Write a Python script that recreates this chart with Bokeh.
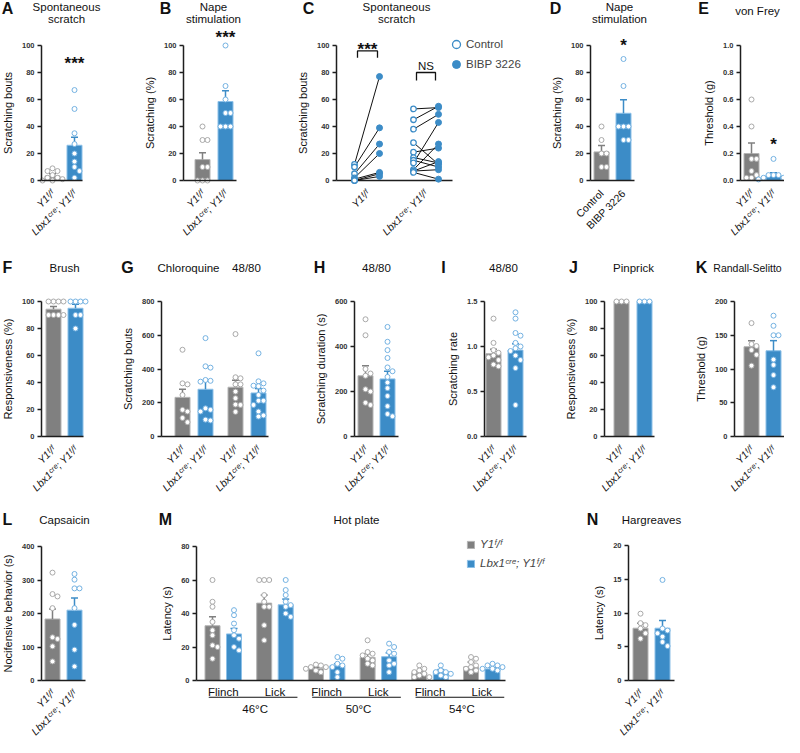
import numpy as np
from math import pi
from bokeh.plotting import figure
from bokeh.models import (Range1d, FixedTicker, Label, Legend, LegendItem,
                          NumeralTickFormatter, ColumnDataSource)
from bokeh.layouts import row, column
from bokeh.embed import file_html
from bokeh.resources import INLINE
from bokeh.core.properties import value

FONT = "Liberation Sans"
GRAY, GRAY_LINE, GRAY_PT = "#808080", "#b4b4b4", "#a9a9a9"
BLUE, BLUE_LINE, BLUE_PT = "#3c8cc7", "#8cc0e8", "#74b2e2"
AXC = "#1e1e1e"

Y1 = "Y1ᶠ/ᶠ"
LBX = "Lbx1ᶜʳᵉ; Y1ᶠ/ᶠ"
GENO = [Y1, LBX]

# ---------------- data ----------------
A_mean = [3.4, 26.1]
A_sem = [1.6, 5.9]
A_y1 = [9, 7, 7, 4, 2, 2, 1, 0, 0]
A_lbx = [67, 53, 35, 27, 20, 14, 10, 7, 2]

B_mean = [15.5, 58.5]
B_sem = [5.0, 8.0]
B_y1 = [40, 30, 30, 10, 10, 0, 0, 0]
B_lbx = [100, 70, 60, 50, 50, 40, 40, 40]

C_y1_ctrl = [12, 10, 5, 2, 1, 0, 0]
C_y1_bibp = [77, 39, 27, 20, 6, 5, 3]
C_lbx_ctrl = [53, 45, 38, 28, 21, 17, 15, 13, 8, 7, 7, 6]
C_lbx_bibp = [54, 55, 49, 12, 24, 13, 10, 43, 27, 14, 8, 1]

D_cats = ["Control", "BIBP 3226"]
D_mean = [21.2, 49.8]
D_sem = [4.7, 10.1]
D_ctrl = [40, 30, 20, 20, 10, 10]
D_bibp = [90, 70, 40, 40, 40, 30, 30]

E_mean = [0.2, 0.04]
E_sem = [0.077, 0.018]
E_y1 = [0.6, 0.4, 0.16, 0.16, 0.07, 0.04, 0.02, 0.02]
E_lbx = [0.16, 0.04, 0.04, 0.04, 0.02, 0.02, 0.01, 0.008]

F_mean = [94.3, 95.0]
F_sem = [2.0, 3.0]
F_y1 = [100, 100, 100, 100, 90, 90, 90, 90]
F_lbx = [100, 100, 100, 100, 90, 90, 80]

G_cats = [Y1, LBX, Y1, LBX]
G_mean = [232, 280, 292, 258]
G_sem = [48, 47, 41, 26]
G_cq_y1 = [514, 315, 309, 246, 158, 148, 110, 85]
G_cq_lbx = [583, 416, 408, 335, 330, 325, 167, 158, 148, 100, 95]
G_48_y1 = [607, 351, 345, 309, 309, 266, 227, 189, 187, 146]
G_48_lbx = [493, 327, 315, 301, 298, 272, 246, 212, 212, 187, 148, 125, 118]

H_mean = [270, 256]
H_sem = [45, 34]
H_y1 = [521, 450, 300, 280, 270, 210, 200, 150, 140]
H_lbx = [487, 421, 384, 349, 307, 290, 265, 240, 215, 180, 135, 100, 90]

I_mean = [0.92, 0.96]
I_sem = [0.05, 0.07]
I_y1 = [1.31, 1.04, 0.96, 0.93, 0.9, 0.88, 0.85, 0.8, 0.78]
I_lbx = [1.38, 1.31, 1.15, 1.12, 1.04, 1.0, 0.98, 0.95, 0.9, 0.85, 0.76, 0.35]

J_mean = [100, 100]
J_sem = [0, 0]
J_y1 = [100, 100, 100]
J_lbx = [100, 100, 100]

K_mean = [133, 127]
K_sem = [9, 15]
K_y1 = [168, 137, 134, 128, 121, 105]
K_lbx = [179, 164, 150, 150, 114, 106, 91, 73]

L_mean = [183.6, 210]
L_sem = [30, 36]
L_y1 = [322, 258, 251, 216, 129, 124, 102, 57]
L_lbx = [318, 301, 275, 275, 216, 166, 92, 42]

M_temps = ["46°C", "50°C", "54°C"]
M_behav = ["Flinch", "Lick"]
M_mean = [32.7, 27.8, 46.2, 45.2, 7.1, 8.8, 13.8, 14.2, 4.6, 5.5, 8.1, 6.9]
M_sem = [5.3, 3.2, 4.8, 3.4, 0.8, 1.2, 2.2, 2.3, 0.9, 1.0, 2.9, 0.8]
M_46f_y1 = [60, 47, 44, 35, 30, 27, 21, 20, 13]
M_46f_lbx = [42, 39, 34, 30, 27, 25, 20, 18]
M_46l_y1 = [60, 60, 60, 51, 47, 44, 44, 33, 24]
M_46l_lbx = [60, 54, 51, 47, 45, 44, 40, 38]
M_50f_y1 = [9.5, 9, 8, 8, 7, 6, 5]
M_50f_lbx = [14, 13, 10, 9, 8, 5, 2]
M_50l_y1 = [24, 17, 16, 15, 13, 12, 10, 9]
M_50l_lbx = [22, 20, 17, 16, 12, 10, 9, 5]
M_54f_y1 = [9, 7, 6, 5, 4, 3, 2, 2]
M_54f_lbx = [9, 6, 5, 5, 4, 3, 2]
M_54l_y1 = [14, 13, 11, 9, 8, 7, 6, 5]
M_54l_lbx = [10, 9, 9, 8, 7, 7, 6]

N_mean = [7.75, 7.75]
N_sem = [0.75, 1.15]
N_y1 = [9.9, 8.5, 8.2, 7.7, 7.0, 6.2]
N_lbx = [14.9, 7.7, 7.4, 7.0, 6.5, 5.7, 5.1]

# ---------------- helpers ----------------
R1, R2, R3 = 252, 248, 237


def swarm(vals, s, d=5.0):
    ys = [v * s for v in vals]
    order = sorted(range(len(vals)), key=lambda i: -ys[i])
    placed, offs = [], [0.0] * len(vals)
    for i in order:
        cand = 0.0
        for k in range(0, 15):
            cand = 0.0 if k == 0 else ((k + 1) // 2) * d * (1 if k % 2 else -1)
            if all((cand - px) ** 2 + (ys[i] - py) ** 2 >= (d * 0.95) ** 2 for px, py in placed):
                break
        offs[i] = cand
        placed.append((cand, ys[i]))
    return offs


def make_fig(fx, fw, rh, ax, ytop, y0, ymax, xaxis=True):
    # the frame covers the whole figure; axes are pinned at data 0
    s = (y0 - ytop) / ymax
    p = figure(width=fw, height=rh, x_range=Range1d(fx - ax, fx + fw - ax),
               y_range=Range1d((y0 - rh) / s, y0 / s), min_border=0,
               toolbar_location=None, output_backend="svg", title=None,
               x_axis_location="below" if xaxis else None)
    p.outline_line_color = None
    p.xgrid.visible = False
    p.ygrid.visible = False
    p.background_fill_color = "white"
    p.border_fill_color = "white"
    p.yaxis[0].fixed_location = 0
    if xaxis:
        p.xaxis[0].fixed_location = 0
    return p, dict(fx=fx, rh=rh, s=s)


def style_y(p, ymax, ystep, label, fmt=None):
    a = p.yaxis[0]
    a.bounds = (0, ymax)
    a.ticker = FixedTicker(ticks=[float(t) for t in np.arange(0, ymax + ystep / 2, ystep)])
    if fmt:
        a.formatter = NumeralTickFormatter(format=fmt)
    a.axis_label = label
    a.axis_label_text_font = FONT
    a.axis_label_text_font_size = "11px"
    a.axis_label_text_font_style = "normal"
    a.axis_label_text_color = "#111111"
    a.axis_label_standoff = 5
    a.major_label_text_font = FONT
    a.major_label_text_font_size = "7.5px"
    a.major_label_text_font_style = "bold"
    a.major_label_text_color = "#333333"
    a.major_label_standoff = 3
    a.axis_line_width = 1.5
    a.axis_line_color = AXC
    a.major_tick_line_width = 1.5
    a.major_tick_line_color = AXC
    a.major_tick_out = 4
    a.major_tick_in = 0
    a.minor_tick_line_color = None


def style_x(p, centers, labels, italic=True):
    a = p.xaxis[0]
    a.ticker = FixedTicker(ticks=list(centers))
    a.major_label_overrides = {c: l for c, l in zip(centers, labels)}
    a.major_label_orientation = pi / 4
    a.axis_line_color = None
    a.major_tick_line_color = None
    a.minor_tick_line_color = None
    a.major_label_standoff = 5
    a.major_label_text_font = FONT
    a.major_label_text_font_size = "10.5px"
    a.major_label_text_font_style = "italic" if italic else "normal"
    a.major_label_text_color = "#111111"


def lab(p, g, x, y, text, size="11.5px", bold=False, align="center"):
    p.add_layout(Label(x=x - g["fx"], y=g["rh"] - y, x_units="screen", y_units="screen",
                       text=text, text_font=FONT, text_font_size=size,
                       text_font_style="bold" if bold else "normal",
                       text_align=align, text_baseline="middle", text_color="#111111"))


def star(p, x, y, text="***"):
    p.add_layout(Label(x=x, y=y, text=text, text_font=FONT, text_font_size="17px",
                       text_font_style="bold", text_align="center", text_baseline="middle",
                       text_color="#111111"))


def draw_bars(p, g, centers, means, sems, pts_list, alen, bw=15):
    cols = [GRAY if i % 2 == 0 else BLUE for i in range(len(means))]
    lcols = [GRAY_LINE if i % 2 == 0 else BLUE_LINE for i in range(len(means))]
    pcols = [GRAY_PT if i % 2 == 0 else BLUE_PT for i in range(len(means))]
    src = ColumnDataSource(dict(x=list(centers), top=list(means), fill=cols, line=lcols))
    r = p.vbar(x="x", top="top", bottom=0, width=bw, fill_color="fill", line_color="line",
               line_width=1, source=src)
    tops = [m + e for m, e in zip(means, sems)]
    p.segment(x0=list(centers), y0=list(means), x1=list(centers), y1=tops,
              line_color=cols, line_width=1.5)
    p.segment(x0=[c - 3.5 for c in centers], y0=tops, x1=[c + 3.5 for c in centers], y1=tops,
              line_color=cols, line_width=1.5)
    xs, ys, cs = [], [], []
    for c, pts, pc in zip(centers, pts_list, pcols):
        offs = swarm(pts, g["s"])
        xs += [c + o for o in offs]
        ys += list(pts)
        cs += [pc] * len(pts)
    p.scatter(x=xs, y=ys, size=5, marker="circle", fill_color="white", line_color=cs, line_width=1)
    p.segment(x0=[0], y0=[0], x1=[alen], y1=[0], line_color=AXC, line_width=1.5)
    return r


def std_panel(fx, fw, rh, ax, alen, ytop, y0, ymax, ystep, ylabel, centers, means, sems,
              pts, xlabels, fmt=None, italic=True):
    p, g = make_fig(fx, fw, rh, ax, ytop, y0, ymax)
    style_y(p, ymax, ystep, ylabel, fmt)
    style_x(p, centers, xlabels, italic)
    draw_bars(p, g, centers, means, sems, pts, alen)
    return p, g


# ---------------- row 1 ----------------
pA, gA = std_panel(0, 142, R1, 41, 41, 45, 180, 100, 20, "Scratching bouts",
                   [11, 33], A_mean, A_sem, [A_y1, A_lbx], GENO)
lab(pA, gA, 7, 8, "A", "16px", True)
lab(pA, gA, 66, 6, "Spontaneous")
lab(pA, gA, 66, 18, "scratch")
star(pA, 33, 87)

pB, gB = std_panel(142, 152, R1, 183, 53, 45, 180, 100, 20, "Scratching (%)",
                   [19, 42], B_mean, B_sem, [B_y1, B_lbx], GENO)
lab(pB, gB, 165, 8, "B", "16px", True)
lab(pB, gB, 213, 6, "Nape")
lab(pB, gB, 213, 18, "stimulation")
star(pB, 42, 106)

# C
pC, gC = make_fig(294, 248, R1, 336, 45, 180, 100)
style_y(pC, 100, 20, "Scratching bouts")
c_pos = [18, 43, 77, 102]
style_x(pC, [31, 89], GENO)
pC.segment(x0=[0], y0=[0], x1=[116], y1=[0], line_color=AXC, line_width=1.5)
lx0 = [c_pos[0]] * len(C_y1_ctrl) + [c_pos[2]] * len(C_lbx_ctrl)
lx1 = [c_pos[1]] * len(C_y1_bibp) + [c_pos[3]] * len(C_lbx_bibp)
ly0 = C_y1_ctrl + C_lbx_ctrl
ly1 = C_y1_bibp + C_lbx_bibp
pC.segment(x0=lx0, y0=ly0, x1=lx1, y1=ly1, line_color="#111111", line_width=1)
r_ctrl = pC.scatter(x=lx0, y=ly0, size=5.5, marker="circle", fill_color="white",
                    line_color=BLUE, line_width=1.3)
r_bibp = pC.scatter(x=lx1, y=ly1, size=6, marker="circle", fill_color=BLUE,
                    line_color=BLUE, line_width=1)
pC.multi_line(xs=[[21, 21, 41, 41], [80, 80, 99, 99]], ys=[[91, 96, 96, 91], [74, 80, 80, 74]],
              line_color="#111111", line_width=1.3)
star(pC, 31, 97)
pC.add_layout(Label(x=89.5, y=85, text="NS", text_font=FONT, text_font_size="11.5px",
                    text_align="center", text_baseline="middle", text_color="#111111"))
legC = Legend(items=[LegendItem(label="Control", renderers=[r_ctrl]),
                     LegendItem(label="BIBP 3226", renderers=[r_bibp])],
              location=(152, R1 - 74), glyph_width=20, glyph_height=20, label_standoff=0,
              spacing=0, padding=0, margin=0, label_height=20, border_line_color=None,
              background_fill_alpha=0, label_text_font=FONT, label_text_font_size="11.5px")
pC.add_layout(legC)
lab(pC, gC, 308, 8, "C", "16px", True)
lab(pC, gC, 396, 6, "Spontaneous")
lab(pC, gC, 396, 18, "scratch")

pD, gD = std_panel(542, 152, R1, 590, 44, 45, 180, 100, 20, "Scratching (%)",
                   [11, 33], D_mean, D_sem, [D_ctrl, D_bibp], D_cats, italic=False)
lab(pD, gD, 555, 8, "D", "16px", True)
lab(pD, gD, 619, 6, "Nape")
lab(pD, gD, 619, 18, "stimulation")
star(pD, 33, 100, "*")

pE, gE = std_panel(694, 90, R1, 740, 44, 45, 180, 1.0, 0.2, "Threshold (g)",
                   [11, 33], E_mean, E_sem, [E_y1, E_lbx], GENO, fmt="0.0")
lab(pE, gE, 703, 8, "E", "16px", True)
lab(pE, gE, 757, 10, "von Frey")
star(pE, 33, 0.27, "*")

# ---------------- row 2 ----------------
pF, gF = std_panel(0, 114, R2, 41, 42, 49, 184, 100, 20, "Responsiveness (%)",
                   [12, 34], F_mean, F_sem, [F_y1, F_lbx], GENO)
lab(pF, gF, 7, 15, "F", "16px", True)
lab(pF, gF, 64, 15, "Brush")

pG, gG = std_panel(114, 198, R2, 161, 107, 49, 184, 800, 200, "Scratching bouts",
                   [21, 44, 74, 97], G_mean, G_sem, [G_cq_y1, G_cq_lbx, G_48_y1, G_48_lbx], G_cats)
lab(pG, gG, 127, 15, "G", "16px", True)
lab(pG, gG, 188, 15, "Chloroquine")
lab(pG, gG, 246, 15, "48/80")

pH, gH = std_panel(312, 120, R2, 354, 44, 49, 184, 600, 200, "Scratching duration (s)",
                   [11, 33], H_mean, H_sem, [H_y1, H_lbx], GENO)
lab(pH, gH, 319, 15, "H", "16px", True)
lab(pH, gH, 376, 15, "48/80")

pI, gI = std_panel(432, 130, R2, 484, 42, 49, 184, 1.5, 0.5, "Scratching rate",
                   [9, 31], I_mean, I_sem, [I_y1, I_lbx], GENO, fmt="0.0")
lab(pI, gI, 443, 15, "I", "16px", True)
lab(pI, gI, 503, 15, "48/80")

pJ, gJ = std_panel(562, 130, R2, 604, 50, 49, 184, 100, 20, "Responsiveness (%)",
                   [17, 40], J_mean, J_sem, [J_y1, J_lbx], GENO)
lab(pJ, gJ, 573, 15, "J", "16px", True)
lab(pJ, gJ, 633, 15, "Pinprick")

pK, gK = std_panel(692, 92, R2, 734, 50, 49, 184, 200, 50, "Threshold (g)",
                   [17, 39], K_mean, K_sem, [K_y1, K_lbx], GENO)
lab(pK, gK, 701, 15, "K", "16px", True)
lab(pK, gK, 747, 15, "Randall-Selitto", size="10.5px")

# ---------------- row 3 ----------------
pL, gL = std_panel(0, 152, R3, 41, 44, 46, 180, 400, 100, "Nocifensive behavior (s)",
                   [11, 33], L_mean, L_sem, [L_y1, L_lbx], GENO)
lab(pL, gL, 7, 19, "L", "16px", True)
lab(pL, gL, 64, 19, "Capsaicin")

pM, gM = make_fig(152, 430, R3, 196, 46, 180, 80, xaxis=False)
style_y(pM, 80, 20, "Latency (s)")
m_centers = [16 + 51.7 * k + 21.5 * j for k in range(6) for j in range(2)]
m_pts = [M_46f_y1, M_46f_lbx, M_46l_y1, M_46l_lbx, M_50f_y1, M_50f_lbx,
         M_50l_y1, M_50l_lbx, M_54f_y1, M_54f_lbx, M_54l_y1, M_54l_lbx]
rM = draw_bars(pM, gM, m_centers, M_mean, M_sem, m_pts, 309)
pair_c = [16 + 51.7 * k + 10.75 for k in range(6)]
pM.text(x=pair_c, y=[-7.0] * 6, text=M_behav * 3, text_font=value(FONT), text_font_size="11.5px",
        text_align="center", text_baseline="middle", text_color="#111111")
gl0 = [pair_c[2 * t] - 14.5 for t in range(3)]
gl1 = [pair_c[2 * t + 1] + 22.5 for t in range(3)]
pM.segment(x0=gl0, y0=[-10.0] * 3, x1=gl1, y1=[-10.0] * 3, line_color="#111111", line_width=1)
pM.text(x=[(a + b) / 2 + 2 for a, b in zip(gl0, gl1)], y=[-16.9] * 3, text=M_temps,
        text_font=value(FONT), text_font_size="11.5px", text_align="center",
        text_baseline="middle", text_color="#111111")
legM = Legend(items=[LegendItem(label=Y1, renderers=[rM], index=0),
                     LegendItem(label=LBX, renderers=[rM], index=1)],
              location=(314, R3 - 69), glyph_width=9, glyph_height=9, label_standoff=5,
              spacing=7, padding=0, margin=0, label_height=11, border_line_color=None,
              background_fill_alpha=0, label_text_font=FONT, label_text_font_size="11.5px",
              label_text_font_style="italic")
pM.add_layout(legM)
lab(pM, gM, 165, 19, "M", "16px", True)
lab(pM, gM, 356, 19, "Hot plate")

pN, gN = std_panel(582, 202, R3, 628, 46, 45, 180, 20, 5, "Latency (s)",
                   [12, 34], N_mean, N_sem, [N_y1, N_lbx], GENO)
lab(pN, gN, 592, 19, "N", "16px", True)
lab(pN, gN, 651, 19, "Hargreaves")

layout = column(row(pA, pB, pC, pD, pE), row(pF, pG, pH, pI, pJ, pK), row(pL, pM, pN))
open("out.html", "w").write(file_html(layout, INLINE, title="Figure"))
